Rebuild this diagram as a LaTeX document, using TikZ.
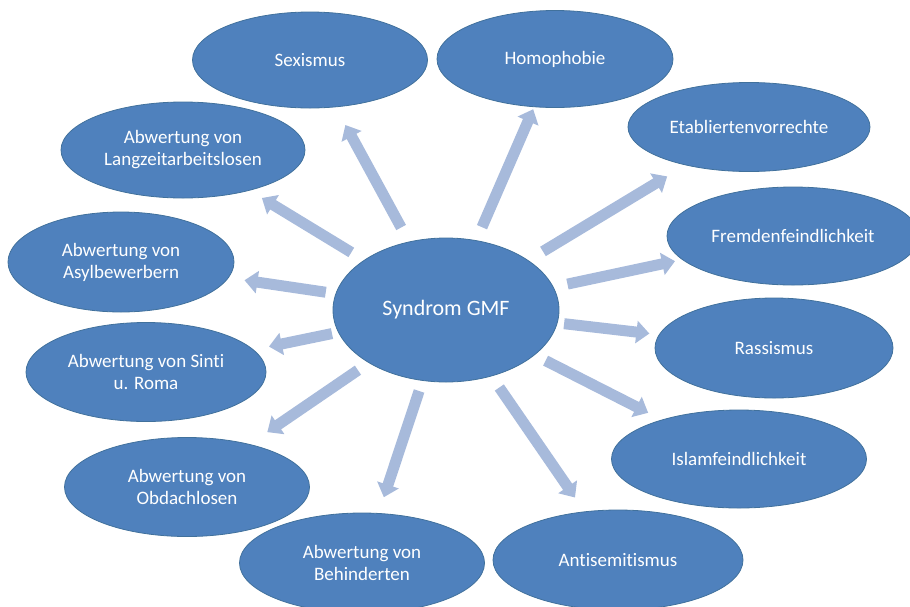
\documentclass[tikz,border=0pt]{standalone}
\usepackage{fontspec}
\setmainfont{Carlito}[Ligatures=NoCommon]
\usetikzlibrary{shapes.geometric,arrows.meta,calc}
\definecolor{ellfill}{HTML}{4F81BD}
\definecolor{ellline}{HTML}{41719C}
\definecolor{arrcol}{HTML}{A7BADB}
\begin{document}
\begin{tikzpicture}[x=1pt,y=-1pt,
 ell/.style={ellipse, fill=ellfill, draw=ellline, line width=0.8pt, text=white, inner sep=0pt,
   font=\fontsize{19}{22}\selectfont, align=center},
 arr/.style={draw=arrcol, line width=11pt, -{Triangle[width=22pt,length=13pt]}}]
\useasboundingbox (0,0) rectangle (910,606);
\node[ell, minimum width=235pt, minimum height=96pt] (sex) at (310,60) {Sexismus};
\node[ell, minimum width=236pt, minimum height=97pt] (hom) at (555,59) {Homophobie};
\node[ell, minimum width=242pt, minimum height=89pt] (eta) at (749,127) {Etabliertenvorrechte};
\node[ell, minimum width=252pt, minimum height=98pt] (fre) at (793,236) {Fremdenfeindlichkeit};
\node[ell, minimum width=238pt, minimum height=100pt] (ras) at (774,348) {Rassismus};
\node[ell, minimum width=255pt, minimum height=98pt] (isl) at (739,459) {Islamfeindlichkeit};
\node[ell, minimum width=250pt, minimum height=100pt] (ant) at (618,560) {Antisemitismus};
\node[ell, minimum width=245pt, minimum height=100pt] (beh) at (362,563) {Abwertung von\\Behinderten};
\node[ell, minimum width=245pt, minimum height=99pt] (obd) at (187,487) {Abwertung von\\Obdachlosen};
\node[ell, minimum width=240pt, minimum height=99pt] (sin) at (146,372) {Abwertung von Sinti\\u. Roma};
\node[ell, minimum width=226pt, minimum height=100pt] (asy) at (121,262) {Abwertung von\\Asylbewerbern};
\node[ell, minimum width=244pt, minimum height=96pt] (lan) at (183,150) {Abwertung von\\Langzeitarbeitslosen};
\node[ell, minimum width=226pt, minimum height=144pt, font=\fontsize{22}{26}\selectfont] (c) at (446,310) {Syndrom GMF};
\draw[arr] ($(c)!0.33!(sex)$) -- ($(c)!0.74!(sex)$);
\draw[arr] ($(c)!0.33!(hom)$) -- ($(c)!0.80!(hom)$);
\draw[arr] ($(c)!0.32!(eta)$) -- ($(c)!0.73!(eta)$);
\draw[arr] ($(c)!0.35!(fre)$) -- ($(c)!0.66!(fre)$);
\draw[arr] ($(c)!0.36!(ras)$) -- ($(c)!0.62!(ras)$);
\draw[arr] ($(c)!0.34!(isl)$) -- ($(c)!0.69!(isl)$);
\draw[arr] ($(c)!0.31!(ant)$) -- ($(c)!0.75!(ant)$);
\draw[arr] ($(c)!0.32!(beh)$) -- ($(c)!0.74!(beh)$);
\draw[arr] ($(c)!0.34!(obd)$) -- ($(c)!0.69!(obd)$);
\draw[arr] ($(c)!0.38!(sin)$) -- ($(c)!0.59!(sin)$);
\draw[arr] ($(c)!0.37!(asy)$) -- ($(c)!0.62!(asy)$);
\draw[arr] ($(c)!0.36!(lan)$) -- ($(c)!0.70!(lan)$);
\end{tikzpicture}
\end{document}
